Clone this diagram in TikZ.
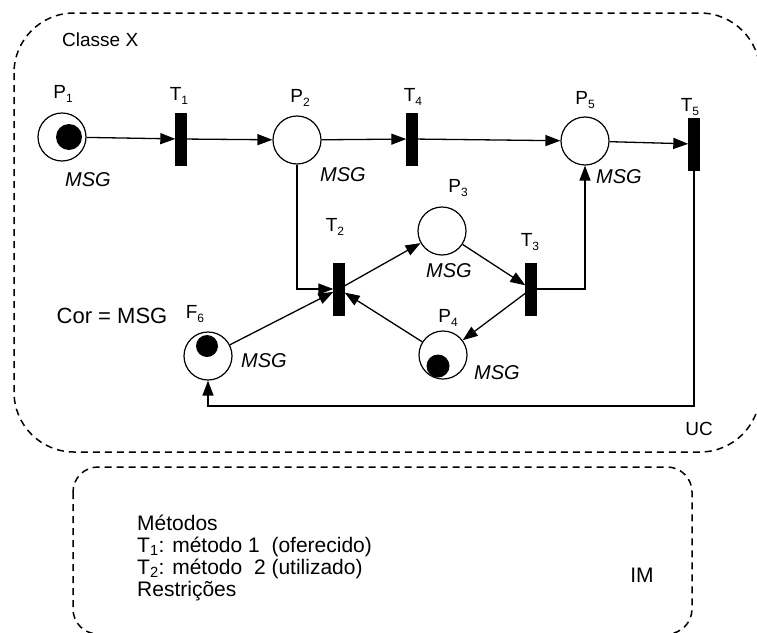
\documentclass[tikz,border=0pt]{standalone}
\usepackage{fontspec}
\setmainfont{Liberation Sans}
\usetikzlibrary{arrows.meta,calc}
\newcommand\sbs[1]{\raisebox{-0.35ex}{\fontsize{12}{12}\selectfont #1}}
\tikzset{
  place/.style={circle,draw,line width=1.2pt,minimum size=48pt,inner sep=0pt},
  token/.style={circle,fill=black,inner sep=0pt,minimum size=#1},
  trans/.style={rectangle,fill=black,draw=black,minimum width=11pt,minimum height=52pt,inner sep=0pt},
  arc/.style={line width=1.3pt,-{Triangle[length=15pt,width=11pt]}},
  lab/.style={font=\fontsize{19}{22}\selectfont,inner sep=0pt},
  msg/.style={font=\fontsize{20}{22}\selectfont\itshape,inner sep=0pt},
  txt/.style={font=\fontsize{21}{24}\selectfont,inner sep=0pt,anchor=base west},
  region/.style={dashed,dash pattern=on 7pt off 5pt,line width=1.5pt,rounded corners=#1},
}
\begin{document}
\begin{tikzpicture}[x=1pt,y=-1pt]
\useasboundingbox (0,0) rectangle (757,632);
% regions
\draw[region=60pt] (14,13) rectangle (760,452);
\draw[region=25pt] (73,467) rectangle (692,634);
% places
\node[place] (P1) at (62,137) {};
\node[token=26pt] (k1) at (69,137) {};
\node[place] (P2) at (297,140) {};
\node[place] (P5) at (585,141) {};
\node[place] (P3) at (442,231) {};
\node[place] (P4) at (443,355) {};
\node[token=23pt] (k4) at (438,366) {};
\node[place] (F6) at (208,356) {};
\node[token=22pt] (k6) at (207,346) {};
% transitions
\node[trans] (T1) at (181,139) {};
\node[trans] (T4) at (412,139) {};
\node[trans] (T5) at (694,144) {};
\node[trans] (T2) at (339,289) {};
\node[trans] (T3) at (531,289) {};
% arcs
\draw[arc] (P1) -- (T1);
\draw[arc] (T1) -- (P2);
\draw[arc] (P2) -- (T4);
\draw[arc] (T4) -- (P5);
\draw[arc] (P5) -- (T5);
\draw[arc] (P2) |- (T2);
\draw[arc] (F6) -- (T2);
\draw[arc] (T2) -- (P3);
\draw[arc] (P4) -- (T2);
\draw[arc] (P3) -- (T3);
\draw[arc] (T3) -- (P4);
\draw[arc] (T3) -| (P5);
\coordinate (bot) at (0,406);
\draw[arc] (T5.south) -- (T5.south |- bot) -| (F6.south);
% labels
\node[lab,anchor=west] (cx) at (62,40) {Classe X};
\node[lab] (lP1) at (63,94) {P\sbs{1}};
\node[lab] (lT1) at (179,96) {T\sbs{1}};
\node[lab] (lP2) at (300,98) {P\sbs{2}};
\node[lab] (lT4) at (413,97) {T\sbs{4}};
\node[lab] (lP5) at (585,100) {P\sbs{5}};
\node[lab] (lT5) at (690,107) {T\sbs{5}};
\node[lab] (lP3) at (458,188) {P\sbs{3}};
\node[lab] (lT2) at (335,227) {T\sbs{2}};
\node[lab] (lT3) at (530,242) {T\sbs{3}};
\node[lab] (lP4) at (448,318) {P\sbs{4}};
\node[lab] (lF6) at (195,314) {F\sbs{6}};
\node[lab,font=\fontsize{22}{24}\selectfont] (cor) at (112,316) {Cor = MSG};
\node[msg] (m1) at (88,180) {MSG};
\node[msg] (m2) at (343,175) {MSG};
\node[msg] (m5) at (619,177) {MSG};
\node[msg] (m3) at (449,271) {MSG};
\node[msg] (m4) at (497,373) {MSG};
\node[msg] (m6) at (264,361) {MSG};
\node[lab] (uc) at (699,429) {UC};
\node[lab,font=\fontsize{21}{24}\selectfont] (im) at (642,575) {IM};
% methods
\node[txt] (t1) at (137,530) {Métodos};
\node[txt] (t2) at (137,552) {T\textsubscript{1}: método 1\ \ (oferecido)};
\node[txt] (t3) at (137,574) {T\textsubscript{2}: método\ \ 2 (utilizado)};
\node[txt] (t4) at (137,596) {Restrições};
\end{tikzpicture}
\end{document}
